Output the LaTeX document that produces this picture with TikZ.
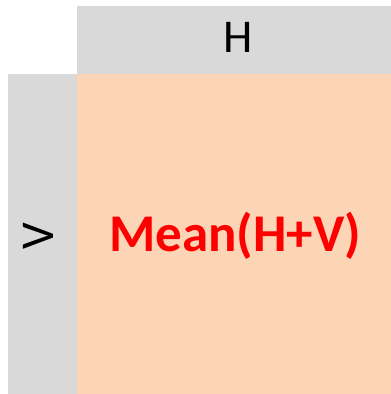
\documentclass[tikz,border=0pt]{standalone}
\usepackage{fontspec}
\setmainfont{Carlito}
\usetikzlibrary{positioning}
\definecolor{hdrgray}{HTML}{D9D9D9}
\definecolor{cellorange}{HTML}{FBD5B5}
\definecolor{meanred}{HTML}{FF0000}
\begin{document}
\begin{tikzpicture}[x=1pt,y=-1pt,
    hdrtext/.style={inner sep=0pt, text=black, font=\fontsize{47}{50}\selectfont},
    meantext/.style={inner sep=0pt, text=meanred, font=\fontsize{53}{56}\selectfont\bfseries}]
    \useasboundingbox (0,0) rectangle (391,394);

    % header row and header column
    \fill[hdrgray] (77,6) rectangle (391,74);
    \fill[hdrgray] (8,74) rectangle (77,394);

    % cell
    \fill[cellorange] (77,74) rectangle (391,394);

    % labels
    \node[hdrtext] (hlabel) at (238,37) {H};
    \node[hdrtext, rotate=90] (vlabel) at (38,236) {V};
    \node[meantext] (meanlabel) at (235,236) {Mean(H+V)};
\end{tikzpicture}
\end{document}
